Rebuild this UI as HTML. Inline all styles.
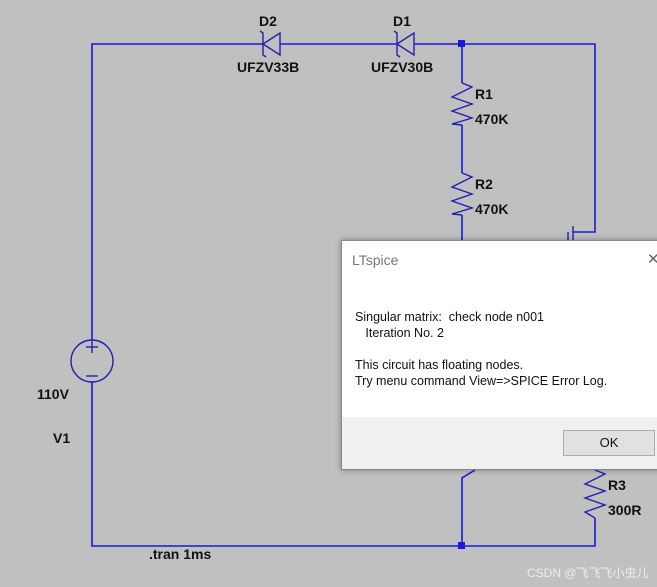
<!DOCTYPE html>
<html><head><meta charset="utf-8"><style>
html,body{margin:0;padding:0;}
body{width:657px;height:587px;background:#c0c0c0;position:relative;overflow:hidden;font-family:"Liberation Sans",sans-serif;}
svg{position:absolute;left:0;top:0;}
.lbl{font-family:"Liberation Sans",sans-serif;font-weight:bold;font-size:14px;fill:#111;}
#dlg{position:absolute;left:341px;top:240px;width:320px;height:228px;background:#fff;border:1px solid #888;box-shadow:0 0 6px rgba(0,0,0,.35);font-family:"Liberation Sans",sans-serif;}
#title{position:absolute;left:10px;top:11px;font-size:14px;color:#777;}
#x{position:absolute;left:305px;top:9px;font-size:15px;color:#666;font-weight:300;}
#msg{position:absolute;left:13px;top:68px;font-size:12.5px;line-height:16px;color:#111;}
#foot{position:absolute;left:0;top:176px;width:320px;height:52px;background:#f0f0f0;}
#ok{position:absolute;left:221px;top:189px;width:90px;height:24px;border:1px solid #adadad;background:#e1e1e1;font-size:13px;text-align:center;line-height:24px;color:#111;}
#wm{position:absolute;left:527px;top:564px;font-size:12px;color:#eee;}
</style></head><body>
<svg width="657" height="587" viewBox="0 0 657 587">
<g stroke="#1a1ad8" stroke-width="1.6" fill="none">
<polyline points="92,340 92,44 263,44"/>
<line x1="280" y1="44" x2="397" y2="44"/>
<polyline points="414,44 595,44 595,232 573,232"/>
<polyline points="462,44 462,83"/>
<line x1="462" y1="125" x2="462" y2="173"/>
<line x1="462" y1="215" x2="462" y2="240"/>
<polyline points="92,382 92,546 595,546 595,518"/>
<polyline points="462,546 462,478 475,470"/>
<line x1="595" y1="468" x2="595" y2="470"/>
</g>
<g stroke="#2020b0" stroke-width="1.4" fill="none">
<polygon points="263,44 280,33 280,55"/>
<polyline points="260,31 263,33 263,55 266,57"/>
<polygon points="397,44 414,33 414,55"/>
<polyline points="394,31 397,33 397,55 400,57"/>
<polyline points="462,83 472,87 452,97 472,104 452,111 472,118 452,124 462,125"/>
<polyline points="462,173 472,177 452,187 472,194 452,201 472,208 452,214 462,215"/>
<polyline points="595,470 605,474 585,484 605,491 585,498 605,505 585,512 595,518"/>
<line x1="573" y1="226" x2="573" y2="240"/>
<line x1="568" y1="232" x2="568" y2="240"/>
<circle cx="92" cy="361" r="21"/>
<line x1="86" y1="347" x2="98" y2="347"/>
<line x1="92" y1="341" x2="92" y2="353"/>
<line x1="86" y1="376" x2="98" y2="376"/>
</g>
<rect x="458" y="40" width="7" height="7" fill="#1a1ad8"/>
<rect x="458" y="542" width="7" height="7" fill="#1a1ad8"/>
<text class="lbl" x="259" y="26">D2</text>
<text class="lbl" x="393" y="26">D1</text>
<text class="lbl" x="237" y="72">UFZV33B</text>
<text class="lbl" x="371" y="72">UFZV30B</text>
<text class="lbl" x="475" y="99">R1</text>
<text class="lbl" x="475" y="124">470K</text>
<text class="lbl" x="475" y="189">R2</text>
<text class="lbl" x="475" y="214">470K</text>
<text class="lbl" x="608" y="490">R3</text>
<text class="lbl" x="608" y="515">300R</text>
<text class="lbl" x="37" y="399">110V</text>
<text class="lbl" x="53" y="443">V1</text>
<text class="lbl" x="149" y="559">.tran 1ms</text>
</svg>
<div id="dlg">
<div id="title">LTspice</div>
<div id="x">✕</div>
<div id="msg">Singular matrix:&nbsp; check node n001<br>&nbsp;&nbsp; Iteration No. 2<br><br>This circuit has floating nodes.<br>Try menu command View=&gt;SPICE Error Log.</div>
<div id="foot"></div>
<div id="ok">OK</div>
</div>
<div id="wm">CSDN @飞飞飞小虫儿</div>
</body></html>
